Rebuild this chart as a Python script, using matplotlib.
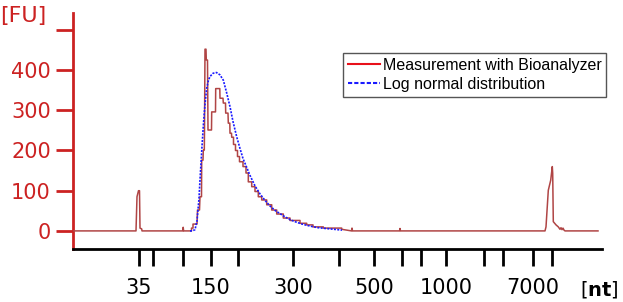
import matplotlib
matplotlib.use("Agg")
import matplotlib.pyplot as plt

# migration position (arbitrary units along the electropherogram) and fluorescence [FU]
meas_x = [73, 136, 137, 138.5, 139.5, 140, 141.7, 142, 182.8, 183.2, 183.6, 191.5, 191.5,
          193, 193, 197, 197.5, 199.5, 200, 201.5, 201.7, 203, 203.3, 204.3, 204.5, 205, 206,
          206.3, 207.5, 208, 211.5, 211.7, 215.5, 215.7, 219.8, 220, 223, 223.3, 225.5,
          225.7, 228, 228.3, 229.8, 230, 231.5, 231.7, 233.5, 233.5, 235.5, 235.5, 237.5,
          237.5, 239.5, 239.5, 243, 243, 246, 246, 248.3, 248.3, 251.7, 251.7, 255, 255,
          258.3, 258.3, 261.7, 261.7, 266.7, 266.7, 271.7, 271.7, 276.7, 276.7, 283.3,
          283.3, 290, 290, 300, 300, 306.7, 306.7, 313, 313, 323.3, 323.3, 341.7, 341.7,
          351.5, 352, 352.5, 399.5, 400, 400.5, 545, 546, 548.3, 550.7, 552.3, 552.7, 553.3,
          556, 558.3, 560, 561, 562, 563, 564, 565, 578, 598]
meas_y = [0, 0, 85, 100, 100, 7, 5, 0, 0, 9, 0, 0, 7,
          7, 17, 17, 52, 52, 85, 85, 176, 176, 201, 201, 250, 452, 452,
          425, 425, 251, 251, 296, 296, 354, 354, 330, 330, 318, 318,
          293, 293, 268, 268, 243, 243, 233, 233, 215, 215, 200, 200,
          185, 185, 172, 172, 160, 160, 144, 144, 122, 122, 110, 110, 98,
          98, 85, 85, 77, 77, 65, 65, 52, 52, 42, 42,
          32, 32, 26, 26, 19, 19, 15, 15, 10, 10, 7, 7, 4,
          0, 7, 0, 0, 6, 0, 0, 10, 101, 126, 160, 143, 23,
          15, 10, 4, 8, 3, 7, 2, 0, 0, 0]

logn_x = [190, 192, 195, 197, 199, 200, 202, 203.5, 205, 206.7, 208.5, 210, 213, 216.5,
          220, 223.3, 226.5, 230, 233, 236.7, 240, 243, 246.7, 250, 255, 260, 265, 270,
          275, 280, 285, 290, 296, 302, 310, 318, 326, 334, 342]
logn_y = [0, 0, 3, 25, 80, 127, 210, 268, 315, 355, 375, 384, 392, 394,
          388, 375, 345, 309, 272, 234, 205, 180, 158, 138, 112, 92, 76, 62,
          51, 43, 35, 28, 22, 17, 12, 8, 6, 4, 2]

xtick_pos = [139, 153, 183, 211, 238, 293, 339, 374, 402, 421, 446, 484, 503, 533, 552]
xtick_lab = ["35", "", "", "150", "", "300", "", "500", "", "", "1000", "", "", "7000", ""]
ytick_pos = [0, 100, 200, 300, 400, 500]
ytick_lab = ["0", "100", "200", "300", "400", ""]

red = "#cc2222"

fig = plt.figure(figsize=(6.23, 3.02), dpi=100)
ax = fig.add_axes([73/623, 1 - 249/302, (602 - 73)/623, (249 - 13)/302])

ax.plot(meas_x, meas_y, color="#b04545", lw=1.1, zorder=3)
ax.plot(logn_x, logn_y, color="#1a1aff", lw=1.2, ls=(0, (1.2, 0.8)), zorder=4)

ax.set_xlim(73, 602)
ax.set_ylim(-45, 542)

ax.spines["top"].set_visible(False)
ax.spines["right"].set_visible(False)
ax.spines["left"].set_color(red)
ax.spines["left"].set_linewidth(2)
ax.spines["bottom"].set_color("black")
ax.spines["bottom"].set_linewidth(2)

ax.set_xticks(xtick_pos)
ax.set_xticklabels(xtick_lab)
ax.set_yticks(ytick_pos)
ax.set_yticklabels(ytick_lab)
ax.tick_params(axis="x", direction="out", length=12, width=2, colors="black",
               labelsize=15, pad=9)
ax.tick_params(axis="y", direction="out", length=12, width=2, colors=red,
               labelsize=15, pad=4)

fig.text(0.0, 0.947, "[FU]", color=red, fontsize=16, ha="left", va="center")
fig.text(580/623, 0.04, r"[$\mathbf{nt}$]", fontsize=14, ha="left", va="center")

h1, = ax.plot([], [], color="#e8101a", lw=1.5)
h2, = ax.plot([], [], color="#1a1aff", lw=1.5, ls=(0, (2, 1)))
leg = fig.legend([h1, h2], ["Measurement with Bioanalyzer", "Log normal distribution"],
                 loc="upper left", bbox_to_anchor=(343/623, 1 - 53/302),
                 prop={"family": "Liberation Sans", "size": 11.5},
                 handlelength=2.0, handletextpad=0.2, labelspacing=0.25,
                 borderpad=0.3, borderaxespad=0, fancybox=False, framealpha=1)
leg.get_frame().set_edgecolor("#555555")
leg.get_frame().set_linewidth(1)

fig.savefig("out.png", dpi=100)
